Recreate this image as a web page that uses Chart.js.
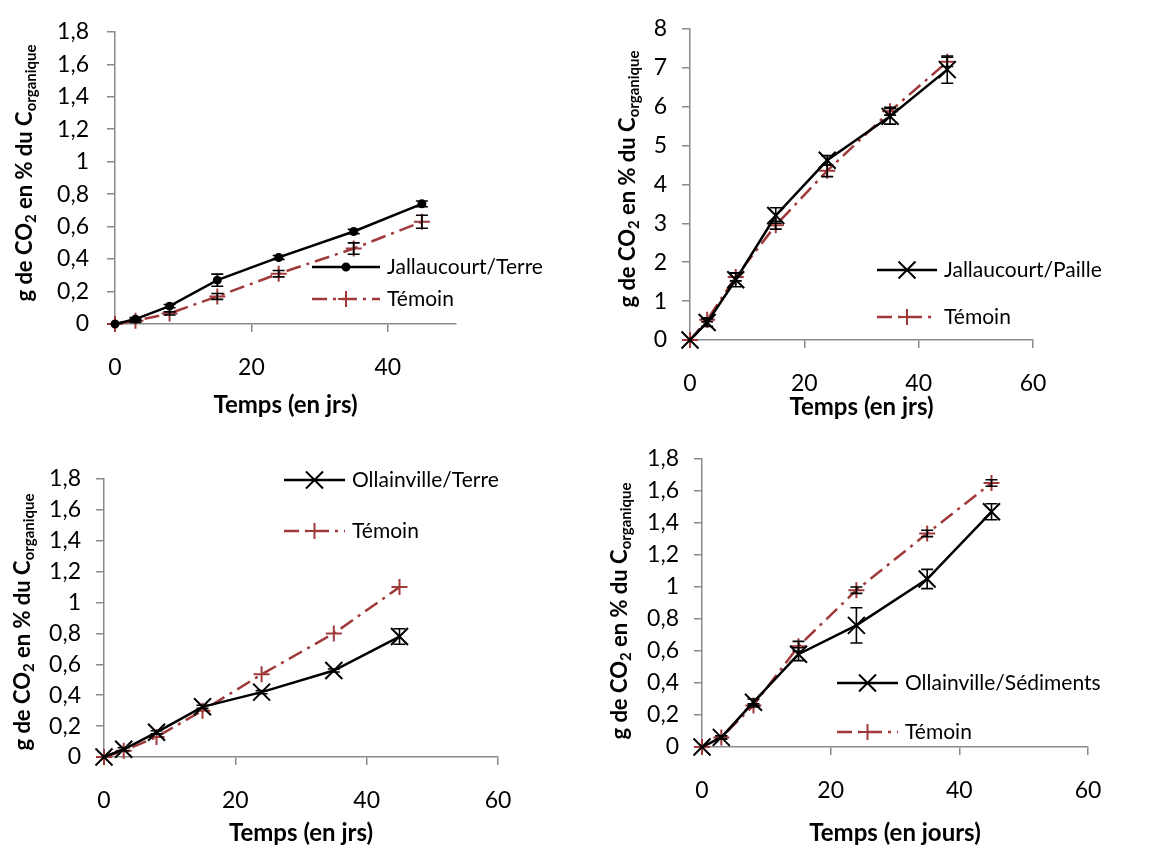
<!DOCTYPE html>
<html>
<head>
<meta charset="utf-8">
<script src="https://cdn.jsdelivr.net/npm/chart.js@4.4.1/dist/chart.umd.min.js"></script>
<style>
  body { margin: 0; background: #fff; overflow: hidden; }
  .panel { position: absolute; }
</style>
</head>
<body>
<canvas class="panel" id="c1" width="584" height="423" style="left:0;top:0"></canvas>
<canvas class="panel" id="c2" width="584" height="423" style="left:584px;top:0"></canvas>
<canvas class="panel" id="c3" width="584" height="423" style="left:0;top:423px"></canvas>
<canvas class="panel" id="c4" width="584" height="423" style="left:584px;top:423px"></canvas>
<script>
// jours de mesure (communs aux 4 graphes)
const jours = [0, 3, 8, 15, 24, 35, 45];

// Jallaucourt / Terre
const jallTerre = [0, 0.03, 0.11, 0.27, 0.41, 0.57, 0.74];
const jallTerreErr = [0, 0.01, 0.01, 0.037, 0.012, 0.013, 0.018];
const temoinJallTerre = [0, 0.02, 0.065, 0.17, 0.31, 0.465, 0.63];
const temoinJallTerreErr = [0, 0.01, 0.01, 0.018, 0.02, 0.035, 0.04];

// Jallaucourt / Paille
const jallPaille = [0, 0.45, 1.55, 3.2, 4.62, 5.75, 6.95];
const jallPailleErr = [0, 0.1, 0.18, 0.2, 0.12, 0.2, 0.35];
const temoinJallPaille = [0, 0.52, 1.62, 2.95, 4.35, 5.88, 7.15];
const temoinJallPailleErr = [0, 0.05, 0.1, 0.1, 0.15, 0.1, 0.12];

// Ollainville / Terre
const ollTerre = [0, 0.05, 0.16, 0.325, 0.42, 0.56, 0.78];
const ollTerreErr = [0, 0.01, 0.01, 0.01, 0.01, 0.01, 0.05];
const temoinOllTerre = [0, 0.04, 0.13, 0.3, 0.535, 0.8, 1.1];
const temoinOllTerreErr = [0, 0, 0, 0, 0, 0, 0];

// Ollainville / Sédiments
const ollSed = [0, 0.06, 0.28, 0.58, 0.76, 1.05, 1.47];
const ollSedErr = [0, 0.01, 0.02, 0.04, 0.11, 0.06, 0.05];
const temoinOllSed = [0, 0.06, 0.26, 0.63, 0.98, 1.335, 1.65];
const temoinOllSedErr = [0, 0.01, 0.01, 0.03, 0.02, 0.02, 0.02];

// graduations
const yTicks18 = [0, 0.2, 0.4, 0.6, 0.8, 1, 1.2, 1.4, 1.6, 1.8];
const yTicks8 = [0, 1, 2, 3, 4, 5, 6, 7, 8];
const xTicks40 = [0, 20, 40];
const xTicks60 = [0, 20, 40, 60];

const FONT = "Lato, 'Open Sans', sans-serif";
const ROUGE = '#A0393A';
const GRIS = '#8a8a8a';

function points(ys) {
  return jours.map((x, i) => ({ x: x, y: ys[i] }));
}

// barres d'erreur (toujours noires)
const errorBars = {
  id: 'errorBars',
  afterDatasetsDraw(chart) {
    const ctx = chart.ctx;
    const xs = chart.scales.x, ys = chart.scales.y;
    chart.data.datasets.forEach(ds => {
      if (!ds.errors) return;
      ctx.save();
      ctx.strokeStyle = '#000';
      ctx.lineWidth = 1.6;
      ds.data.forEach((p, j) => {
        const e = ds.errors[j];
        if (!e) return;
        const x = xs.getPixelForValue(p.x);
        const y1 = ys.getPixelForValue(p.y + e);
        const y2 = ys.getPixelForValue(p.y - e);
        ctx.beginPath();
        ctx.moveTo(x, y1); ctx.lineTo(x, y2);
        ctx.moveTo(x - 6, y1); ctx.lineTo(x + 6, y1);
        ctx.moveTo(x - 6, y2); ctx.lineTo(x + 6, y2);
        ctx.stroke();
      });
      ctx.restore();
    });
  }
};

// légende, titres des axes (avec indices)
const decor = {
  id: 'decor',
  afterDraw(chart) {
    const ctx = chart.ctx;
    const o = chart.options.plugins.decor;
    const area = chart.chartArea;

    // légende
    chart.data.datasets.forEach((ds, i) => {
      const y = o.legend.y + i * o.legend.gap;
      const x0 = o.legend.x, x1 = o.legend.x + o.legend.len;
      ctx.save();
      ctx.strokeStyle = ds.borderColor;
      ctx.lineWidth = ds.borderWidth;
      ctx.setLineDash(ds.borderDash || []);
      ctx.beginPath();
      ctx.moveTo(x0, y); ctx.lineTo(x1, y);
      ctx.stroke();
      ctx.setLineDash([]);
      ctx.fillStyle = ds.pointBackgroundColor;
      ctx.strokeStyle = ds.pointBorderColor;
      ctx.lineWidth = ds.pointBorderWidth;
      Chart.helpers.drawPoint(ctx, {
        pointStyle: ds.pointStyle, radius: ds.pointRadius, rotation: 0, borderWidth: ds.pointBorderWidth
      }, (x0 + x1) / 2, y);
      ctx.fillStyle = '#000';
      ctx.font = '21px ' + FONT;
      ctx.textBaseline = 'middle';
      ctx.textAlign = 'left';
      ctx.fillText(ds.label, x1 + 7, y);
      ctx.restore();
    });

    // titre axe x
    ctx.save();
    ctx.fillStyle = '#000';
    ctx.font = 'bold 24px ' + FONT;
    ctx.textAlign = 'center';
    ctx.textBaseline = 'middle';
    ctx.fillText(o.xTitle, (area.left + area.right) / 2, area.bottom + o.xTitleOffset);
    ctx.restore();

    // titre axe y : g de CO2 en % du C organique
    const parts = [
      { t: 'g de CO', sub: false },
      { t: '2', sub: true },
      { t: ' en % du C', sub: false },
      { t: 'organique', sub: true }
    ];
    ctx.save();
    ctx.translate(o.yTitle.x, o.yTitle.y);
    ctx.rotate(-Math.PI / 2);
    ctx.fillStyle = '#000';
    ctx.textBaseline = 'middle';
    let total = 0;
    parts.forEach(p => {
      ctx.font = p.sub ? 'bold 15px ' + FONT : 'bold 22px ' + FONT;
      p.w = ctx.measureText(p.t).width;
      total += p.w;
    });
    let x = -total / 2;
    parts.forEach(p => {
      ctx.font = p.sub ? 'bold 15px ' + FONT : 'bold 22px ' + FONT;
      ctx.fillText(p.t, x, p.sub ? 6 : 0);
      x += p.w;
    });
    ctx.restore();
  }
};

function makeChart(id, cfg) {
  const tickFont = { family: FONT, size: 23 };
  return new Chart(document.getElementById(id), {
    type: 'line',
    data: {
      datasets: [
        {
          label: cfg.label,
          data: points(cfg.main),
          errors: cfg.mainErr,
          borderColor: '#000',
          borderWidth: 2.5,
          pointStyle: cfg.marker,
          pointRadius: cfg.marker === 'circle' ? 3.5 : 12,
          pointBorderWidth: 2,
          pointBorderColor: '#000',
          pointBackgroundColor: '#000',
          tension: 0,
          clip: false
        },
        {
          label: 'Témoin',
          data: points(cfg.temoin),
          errors: cfg.temoinErr,
          borderColor: ROUGE,
          borderWidth: 2.5,
          borderDash: [15, 6, 3, 6],
          pointStyle: 'cross',
          pointRadius: 8,
          pointBorderWidth: 2,
          pointBorderColor: ROUGE,
          pointBackgroundColor: ROUGE,
          tension: 0,
          clip: false
        }
      ]
    },
    options: {
      responsive: false,
      animation: false,
      layout: { padding: cfg.padding },
      scales: {
        x: {
          type: 'linear',
          min: 0,
          max: cfg.xMax,
          afterBuildTicks: s => { s.ticks = cfg.xTicks.map(v => ({ value: v })); },
          afterFit: s => { s.height = 60; },
          ticks: { font: tickFont, color: '#000', padding: 22, maxRotation: 0 },
          grid: { drawOnChartArea: false, tickLength: 8, color: GRIS, lineWidth: 1.5 },
          border: { color: GRIS, width: 1.5 }
        },
        y: {
          min: 0,
          max: cfg.yMax,
          afterBuildTicks: s => { s.ticks = cfg.yTicks.map(v => ({ value: v })); },
          afterFit: s => { s.width = 70; },
          ticks: {
            font: tickFont, color: '#000', padding: cfg.yPad,
            callback: v => String(v).replace('.', ',')
          },
          grid: { drawOnChartArea: false, tickLength: 8, color: GRIS, lineWidth: 1.5 },
          border: { color: GRIS, width: 1.5 }
        }
      },
      plugins: {
        legend: { display: false },
        tooltip: { enabled: false },
        decor: {
          legend: cfg.legend,
          xTitle: cfg.xTitle,
          xTitleOffset: cfg.xTitleOffset,
          yTitle: cfg.yTitle
        }
      }
    },
    plugins: [errorBars, decor]
  });
}

makeChart('c1', {
  label: 'Jallaucourt/Terre', main: jallTerre, mainErr: jallTerreErr,
  temoin: temoinJallTerre, temoinErr: temoinJallTerreErr, marker: 'circle',
  xMax: 50, xTicks: xTicks40, yMax: 1.8, yTicks: yTicks18, yPad: 18,
  padding: { left: 45, top: 24, right: 128, bottom: 39 },
  legend: { x: 312, y: 267, len: 68, gap: 32 },
  xTitle: 'Temps (en jrs)', xTitleOffset: 81,
  yTitle: { x: 25, y: 173 }
});

makeChart('c2', {
  label: 'Jallaucourt/Paille', main: jallPaille, mainErr: jallPailleErr,
  temoin: temoinJallPaille, temoinErr: temoinJallPailleErr, marker: 'crossRot',
  xMax: 60, xTicks: xTicks60, yMax: 8, yTicks: yTicks8, yPad: 15,
  padding: { left: 36, top: 28, right: 135, bottom: 23 },
  legend: { x: 293, y: 270, len: 60, gap: 47 },
  xTitle: 'Temps (en jrs)', xTitleOffset: 67,
  yTitle: { x: 44, y: 179 }
});

makeChart('c3', {
  label: 'Ollainville/Terre', main: ollTerre, mainErr: ollTerreErr,
  temoin: temoinOllTerre, temoinErr: temoinOllTerreErr, marker: 'crossRot',
  xMax: 60, xTicks: xTicks60, yMax: 1.8, yTicks: yTicks18, yPad: 15,
  padding: { left: 34, top: 56, right: 86, bottom: 29 },
  legend: { x: 284, y: 57, len: 61, gap: 51 },
  xTitle: 'Temps (en jrs)', xTitleOffset: 76,
  yTitle: { x: 23, y: 199 }
});

makeChart('c4', {
  label: 'Ollainville/Sédiments', main: ollSed, mainErr: ollSedErr,
  temoin: temoinOllSed, temoinErr: temoinOllSedErr, marker: 'crossRot',
  xMax: 60, xTicks: xTicks60, yMax: 1.8, yTicks: yTicks18, yPad: 15,
  padding: { left: 48, top: 36, right: 80, bottom: 39 },
  legend: { x: 253, y: 260, len: 61, gap: 49 },
  xTitle: 'Temps (en jours)', xTitleOffset: 86,
  yTitle: { x: 36, y: 188 }
});
</script>
</body>
</html>
